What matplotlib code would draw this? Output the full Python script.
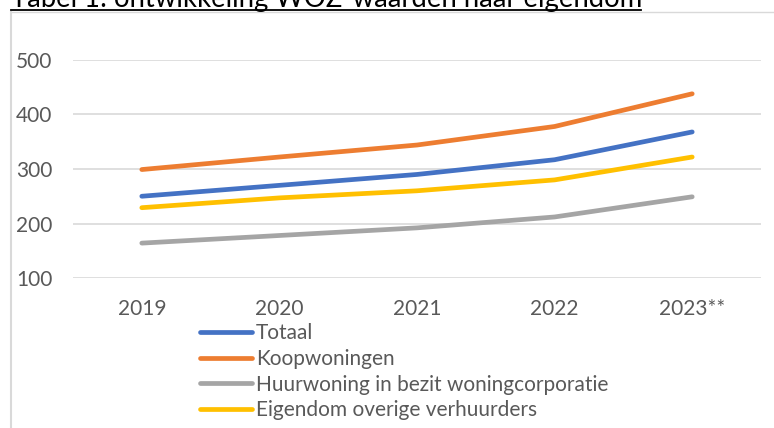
import matplotlib
matplotlib.use("Agg")
import matplotlib.pyplot as plt
from matplotlib.lines import Line2D

years = ["2019", "2020", "2021", "2022", "2023**"]
totaal = [250, 270, 290, 317, 368]
koopwoningen = [299, 322, 344, 378, 438]
huur_corporatie = [164, 178, 192, 212, 249]
overige_verhuurders = [229, 247, 260, 280, 322]

series = [
    ("Totaal", totaal, "#4472C4"),
    ("Koopwoningen", koopwoningen, "#ED7D31"),
    ("Huurwoning in bezit woningcorporatie", huur_corporatie, "#A5A5A5"),
    ("Eigendom overige verhuurders", overige_verhuurders, "#FFC000"),
]

plt.rcParams["font.family"] = ["Lato", "DejaVu Sans"]
text_color = "#595959"

fig = plt.figure(figsize=(7.74, 4.28), dpi=100)
ax = fig.add_axes([73 / 774, 1 - 278 / 428, 688 / 774, 218 / 428])

x = range(len(years))
for label, vals, color in series:
    ax.plot(x, vals, color=color, lw=3.4, solid_capstyle="round",
            solid_joinstyle="round", label=label)

ax.set_xlim(-0.5, len(years) - 0.5)
ax.set_ylim(100, 500)
ax.set_yticks([100, 200, 300, 400, 500])
ax.set_xticks(list(x))
ax.set_xticklabels(years)
ax.grid(axis="y", color="#D9D9D9", lw=1.2)
ax.set_axisbelow(True)
for s in ax.spines.values():
    s.set_visible(False)
ax.tick_params(length=0, labelsize=15, colors=text_color)
ax.tick_params(axis="y", pad=15)
ax.tick_params(axis="x", pad=15)

fig.legend(loc="upper left", bbox_to_anchor=(200 / 774, 1 - 323 / 428),
           frameon=False, fontsize=15, labelcolor=text_color,
           handlelength=2.5, handletextpad=0.2, labelspacing=0.28,
           borderpad=0, borderaxespad=0)

# chart frame (left and top edges only visible)
fig.add_artist(Line2D([10.5 / 774, 10.5 / 774], [0, 1 - 12 / 428],
                      transform=fig.transFigure, color="#D9D9D9", lw=1.5))
fig.add_artist(Line2D([10.5 / 774, 1], [1 - 12 / 428, 1 - 12 / 428],
                      transform=fig.transFigure, color="#D9D9D9", lw=1))

# title, cut off at the top as in the original, underlined
fig.text(11 / 774, 1 - 7 / 428, "Tabel 1: ontwikkeling WOZ-waarden naar eigendom",
         fontsize=19.8, color="black", ha="left", va="baseline")
fig.add_artist(Line2D([11 / 774, 641 / 774], [1 - 9.5 / 428, 1 - 9.5 / 428],
                      transform=fig.transFigure, color="black", lw=1.3))

fig.savefig("out.png", dpi=100)
